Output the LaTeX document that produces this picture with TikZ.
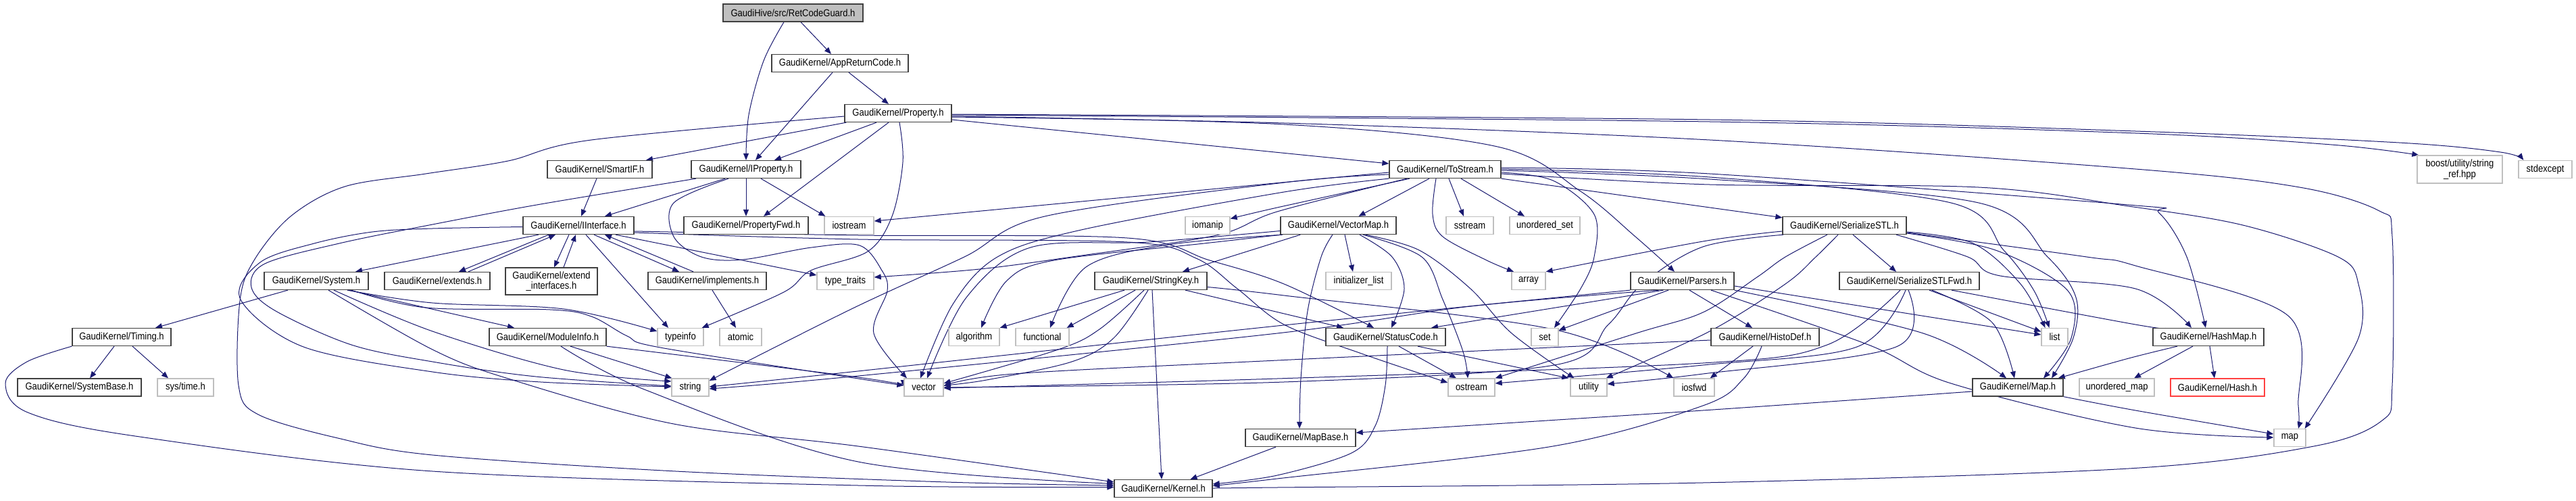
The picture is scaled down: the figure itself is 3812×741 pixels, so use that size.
\documentclass[tikz,border=0pt]{standalone}
\usepackage{fontspec}
\setmainfont{Liberation Sans}[FakeStretch=0.88]
\usetikzlibrary{arrows.meta}
\definecolor{edgec}{HTML}{191970}
\definecolor{docb}{HTML}{404040}
\definecolor{extb}{HTML}{BFBFBF}
\definecolor{redb}{HTML}{FF4040}
\pgfdeclarelayer{bg}
\pgfsetlayers{bg,main}
\tikzset{
  nd/.style={draw=docb, line width=1.3pt, fill=white, inner sep=0pt, font=\fontsize{14.8}{15.5}\selectfont, align=center, minimum height=26pt},
  ex/.style={nd, draw=extb},
  rt/.style={nd, fill=extb},
  rd/.style={nd, draw=redb},
  e/.style={draw=edgec, line width=1pt, -{Triangle[length=10pt,width=8pt]}},
  sm/.style={smooth, tension=0.55},
}
\begin{document}
\begin{tikzpicture}[x=1pt,y=-1pt]
\useasboundingbox (0,0) rectangle (3812,741);
% nodes
\node[rt, minimum width=207pt] (rcg) at (1173.5,19) {GaudiHive/src/RetCodeGuard.h};
\node[nd, minimum width=202pt] (arc) at (1243,93.5) {GaudiKernel/AppReturnCode.h};
\node[nd, minimum width=158pt] (prop) at (1329,167.5) {GaudiKernel/Property.h};
\node[nd, minimum width=155pt] (smartif) at (887.5,250.5) {GaudiKernel/SmartIF.h};
\node[nd, minimum width=162pt] (iprop) at (1104,250.5) {GaudiKernel/IProperty.h};
\node[nd, minimum width=165pt] (tostream) at (2138.5,250.5) {GaudiKernel/ToStream.h};
\node[ex, minimum width=126pt, minimum height=41pt] (boost) at (3640,250.5) {boost/utility/string\\\_ref.hpp};
\node[ex, minimum width=79pt] (stdexcept) at (3766.5,250.5) {stdexcept};
\node[nd, minimum width=164pt] (iint) at (856,333.5) {GaudiKernel/IInterface.h};
\node[nd, minimum width=184pt] (pfwd) at (1104,333.5) {GaudiKernel/PropertyFwd.h};
\node[ex, minimum width=73pt] (iostream) at (1256.5,333.5) {iostream};
\node[ex, minimum width=66pt] (iomanip) at (1787,333.5) {iomanip};
\node[nd, minimum width=171pt] (vmap) at (1980.5,333.5) {GaudiKernel/VectorMap.h};
\node[ex, minimum width=70pt] (sstream) at (2175,333.5) {sstream};
\node[ex, minimum width=104pt] (uset) at (2286,333.5) {unordered\_set};
\node[nd, minimum width=183pt] (sstl) at (2729.5,333.5) {GaudiKernel/SerializeSTL.h};
\node[nd, minimum width=154pt] (system) at (468,415.5) {GaudiKernel/System.h};
\node[nd, minimum width=156pt] (extends) at (647,415.5) {GaudiKernel/extends.h};
\node[nd, minimum width=136pt, minimum height=40pt] (extint) at (816,416) {GaudiKernel/extend\\\_interfaces.h};
\node[nd, minimum width=175pt] (implements) at (1046.5,415.5) {GaudiKernel/implements.h};
\node[ex, minimum width=84pt] (typetraits) at (1251,415.5) {type\_traits};
\node[nd, minimum width=166pt] (strkey) at (1703,415.5) {GaudiKernel/StringKey.h};
\node[ex, minimum width=97pt] (initlist) at (2010.5,415.5) {initializer\_list};
\node[ex, minimum width=50pt] (array) at (2262,415.5) {array};
\node[nd, minimum width=153pt] (parsers) at (2489.5,415.5) {GaudiKernel/Parsers.h};
\node[nd, minimum width=207pt] (sstlfwd) at (2825.5,415.5) {GaudiKernel/SerializeSTLFwd.h};
\node[nd, minimum width=146pt] (timing) at (180,498.5) {GaudiKernel/Timing.h};
\node[nd, minimum width=173pt] (modinfo) at (810.5,498.5) {GaudiKernel/ModuleInfo.h};
\node[ex, minimum width=68pt] (typeinfo) at (1007,498.5) {typeinfo};
\node[ex, minimum width=62pt] (atomic) at (1096,498.5) {atomic};
\node[ex, minimum width=75pt] (algorithm) at (1441.5,498.5) {algorithm};
\node[ex, minimum width=79pt] (functional) at (1542.5,498.5) {functional};
\node[nd, minimum width=177pt] (statuscode) at (2050.5,498.5) {GaudiKernel/StatusCode.h};
\node[ex, minimum width=40pt] (set) at (2286,498.5) {set};
\node[nd, minimum width=160pt] (histodef) at (2612,498.5) {GaudiKernel/HistoDef.h};
\node[ex, minimum width=39pt] (list) at (3040.5,498.5) {list};
\node[nd, minimum width=164pt] (hashmap) at (3268,498.5) {GaudiKernel/HashMap.h};
\node[nd, minimum width=183pt] (systembase) at (117.5,573) {GaudiKernel/SystemBase.h};
\node[ex, minimum width=83pt] (systime) at (274.5,573) {sys/time.h};
\node[ex, minimum width=55pt] (string) at (1021.5,573) {string};
\node[ex, minimum width=58pt] (vector) at (1367,573) {vector};
\node[ex, minimum width=69pt] (ostream) at (2177.5,573) {ostream};
\node[ex, minimum width=54pt] (utility) at (2351,573) {utility};
\node[ex, minimum width=60pt] (iosfwd) at (2507,573) {iosfwd};
\node[nd, minimum width=134pt] (maph) at (2986,573) {GaudiKernel/Map.h};
\node[ex, minimum width=111pt] (umap) at (3132.5,573) {unordered\_map};
\node[rd, minimum width=139pt] (hash) at (3281.5,573) {GaudiKernel/Hash.h};
\node[nd, minimum width=163pt] (mapbase) at (1924.5,647.5) {GaudiKernel/MapBase.h};
\node[ex, minimum width=47pt] (map) at (3388.5,647.5) {map};
\node[nd, minimum width=145pt] (kernel) at (1721.5,722.5) {GaudiKernel/Kernel.h};
% edges
\begin{pgfonlayer}{bg}
\fill[white] (0,0) rectangle (3812,741);
\draw[e] plot[sm] coordinates {([xshift=-13.5pt]rcg.south) (1130,90) (1108,170) (iprop.north)};
\draw[e] ([xshift=11.5pt]rcg.south) -- ([xshift=-13pt]arc.north);
\draw[e] ([xshift=-11pt]arc.south) -- ([xshift=14pt]iprop.north);
\draw[e] ([xshift=13pt]arc.south) -- ([xshift=-14pt]prop.north);
\draw[e] ([xshift=-32pt]prop.south) -- ([xshift=42pt]iprop.north);
\draw[e] ([xshift=-14pt]prop.south) -- ([xshift=26pt]pfwd.north);
\draw[e] ([xshift=3pt]prop.south west) -- ([xshift=68.5pt]smartif.north);
\draw[e] plot[sm] coordinates {([yshift=-4.5pt]prop.west) (875,207) (752,238) (630,257) (510,276) (430,320) (376,385) (355,445) (353,570) (382,613) (500,648) (640,673) (1000,697) (1400,713) ([yshift=4.5pt]kernel.west)};
\draw[e] plot[sm] coordinates {([xshift=2pt]prop.south) (1336,240) (1320,320) (1284,372) (1200,400) (1160,432) ([xshift=-3pt]typeinfo.north east)};
\draw[e] ([yshift=-9.5pt]prop.east) -- ([yshift=8.5pt]tostream.west);
\draw[e] plot[sm] coordinates {([yshift=-4.5pt]prop.east) (1900,184) (2216,217) (2339,283) (2420,350) ([xshift=-11.5pt]parsers.north)};
\draw[e] plot[sm] coordinates {([yshift=-5.5pt]prop.east) (1900,182) (2530,207) (3160,250) (3403,277) (3521,312) (3540,350) (3540,570) (3525,622) (3424,660) (3150,693) (2520,714) (1890,721) ([yshift=0.5pt]kernel.east)};
\draw[e] plot[sm] coordinates {([yshift=-2.5pt]prop.east) (2530,180) (3160,197) (3450,214) ([xshift=3pt]boost.north west)};
\draw[e] plot[sm] coordinates {([yshift=-1.5pt]prop.east) (2530,177) (3160,194) (3550,211) (3700,225) ([xshift=8pt]stdexcept.north west)};
\draw[e] ([xshift=-4.5pt]smartif.south) -- ([xshift=4pt]iint.north);
\draw[e] ([xshift=-31pt]iprop.south) -- ([xshift=39pt]iint.north);
\draw[e] (iprop.south) -- (pfwd.north);
\draw[e] ([xshift=22pt]iprop.south) -- ([xshift=2pt]iostream.north west);
\draw[e] plot[sm] coordinates {([xshift=-74pt]iprop.south) (800,302) (640,332) (502,360) (392,390) (372,425) (408,460) (520,510) (640,535) (793,557) ([yshift=2pt]string.west)};
\draw[e] plot[sm] coordinates {([yshift=-2pt]iint.west) (640,338) (551,343) (465,360) (385,388) (356,443) (449,513) (640,550) (800,565) ([yshift=1pt]string.west)};
\draw[e] ([xshift=-59pt]iint.south) -- ([xshift=58pt]system.north);
\draw[e] ([xshift=-44pt]iint.south) -- ([xshift=32pt]extends.north);
\draw[e] ([xshift=46pt]extends.north) -- ([xshift=-34pt]iint.south);
\draw[e] ([xshift=-14pt]iint.south) -- ([xshift=4pt]extint.north);
\draw[e] ([xshift=18pt]extint.north) -- ([xshift=-4pt]iint.south);
\draw[e] ([xshift=11pt]iint.south) -- ([xshift=-18pt]typeinfo.north);
\draw[e] ([xshift=23pt]iint.south) -- ([xshift=-41.5pt]implements.north);
\draw[e] ([xshift=-20.5pt]implements.north) -- ([xshift=39pt]iint.south);
\draw[e] ([xshift=7.5pt]implements.south) -- ([xshift=-7pt]atomic.north);
\draw[e] ([xshift=55pt]iint.south) -- ([yshift=8.5pt]typetraits.west);
\draw[e] plot[sm] coordinates {([yshift=-8.5pt]iint.east) (1270,348) (1668,352) (1790,385) (1900,420) ([xshift=-17.5pt]statuscode.north)};
\draw[e] plot[sm] coordinates {([yshift=-10.5pt]iint.east) (1270,354) (1668,358) (1770,382) (1831,427) (1900,480) (2012,522) ([yshift=7pt]ostream.west)};
\draw[e] ([xshift=-42pt]system.south) -- ([xshift=50pt]timing.north);
\draw[e] ([xshift=48pt]system.south) -- ([xshift=-49.5pt]modinfo.north);
\draw[e] plot[sm] coordinates {([xshift=46pt]system.south) (640,448) (834,457) ([yshift=8.5pt]typeinfo.west)};
\draw[e] plot[sm] coordinates {([xshift=52pt]system.south) (630,455) (814,458) (875,468) (928,497) (977,514) (1270,560) ([yshift=3pt]vector.west)};
\draw[e] plot[sm] coordinates {([xshift=26pt]system.south) (640,490) (834,547) ([yshift=9pt]string.west)};
\draw[e] plot[sm] coordinates {([xshift=18pt]system.south) (640,517) (752,560) (997,627) (1270,660) ([yshift=9.5pt]kernel.west)};
\draw[e] ([xshift=-11pt]timing.south) -- ([xshift=15.5pt]systembase.north);
\draw[e] ([xshift=16pt]timing.south) -- ([xshift=-25.5pt]systime.north);
\draw[e] plot[sm] coordinates {(timing.south west) (40,535) (8,567) (41,610) (200,645) (640,697) (1270,718) ([yshift=2pt]kernel.west)};
\draw[e] ([xshift=33.5pt]modinfo.south) -- ([xshift=1pt]string.north west);
\draw[e] plot[sm] coordinates {(modinfo.south east) (1270,558) ([yshift=1pt]vector.west)};
\draw[e] plot[sm] coordinates {([xshift=19.5pt]modinfo.south) (956,577) (1270,683) ([yshift=7pt]kernel.west)};
\draw[e] plot[sm] coordinates {([xshift=-26pt]iprop.south) (997,300) (997,350) (1038,380) (1099,384) (1201,366) (1272,363) (1305,400) (1313,430) (1293,493) ([xshift=-25pt]vector.north)};
\draw[e] ([xshift=-23.5pt]tostream.south) -- ([xshift=30pt]vmap.north);
\draw[e] ([xshift=5.5pt]tostream.south) -- ([xshift=-9pt]sstream.north);
\draw[e] ([xshift=23.5pt]tostream.south) -- ([xshift=-30pt]uset.north);
\draw[e] ([yshift=-4.5pt]tostream.west) -- ([yshift=6.5pt]iostream.east);
\draw[e] plot[sm] coordinates {([xshift=-52.5pt]tostream.south) (1890,307) ([yshift=10pt]iomanip.east)};
\draw[e] plot[sm] coordinates {([yshift=-7.5pt]tostream.west) (1900,270) (1546,320) (1427,380) (1260,457) ([yshift=10pt]string.east)};
\draw[e] plot[sm] coordinates {(tostream.south west) (1900,284) (1600,340) (1476,380) (1410,450) ([xshift=-5pt]vector.north)};
\draw[e] plot[sm] coordinates {([xshift=-56.5pt]tostream.south) (1890,313) (1800,348) (1600,378) (1450,398) ([yshift=5.5pt]typetraits.east)};
\draw[e] plot[sm] coordinates {([xshift=-13.5pt]tostream.south) (2120,317) (2135,350) (2200,385) ([xshift=-22pt]array.north)};
\draw[e] plot[sm] coordinates {([yshift=-4.5pt]tostream.east) (2298,267) (2359,317) (2359,380) (2339,427) ([xshift=14pt]set.north)};
\draw[e] plot[sm] coordinates {([yshift=0.5pt]tostream.east) (2530,262) (2887,300) (2965,370) (3010,430) ([xshift=-8pt]list.north)};
\draw[e] plot[sm] coordinates {([yshift=-1.5pt]tostream.east) (2530,265) (2928,300) (3030,380) (3072,440) (3068,500) ([xshift=50pt]maph.north)};
\draw[e] plot[sm] coordinates {([yshift=2.5pt]tostream.east) (2530,257) (3150,303) (3195,315) (3236,380) ([xshift=-4pt]hashmap.north)};
\draw[e] plot[sm] coordinates {([yshift=-6.5pt]tostream.east) (2530,273) (2928,277) (3150,305) (3319,333) (3460,380) (3490,420) (3490,500) ([xshift=-2pt]map.north east)};
\draw[e] (tostream.south east) -- ([yshift=-2pt]sstl.north west);
\draw[e] ([xshift=9.5pt]vmap.south) -- ([xshift=-8.5pt]initlist.north);
\draw[e] plot[sm] coordinates {([xshift=-8.5pt]vmap.south) (1955,380) (1935,460) (1925,560) ([xshift=-1.5pt]mapbase.north)};
\draw[e] plot[sm] coordinates {([xshift=31.5pt]vmap.south) (2060,380) (2078,427) ([xshift=8.5pt]statuscode.north)};
\draw[e] plot[sm] coordinates {([xshift=36.5pt]vmap.south) (2104,380) (2135,443) (2165,520) ([xshift=-5.5pt]ostream.north)};
\draw[e] plot[sm] coordinates {([xshift=40pt]vmap.south) (2100,370) (2176,427) (2237,493) ([xshift=6pt]utility.north west)};
\draw[e] plot[sm] coordinates {([yshift=-8pt]vmap.west) (1700,358) (1525,366) (1430,440) ([xshift=5pt]vector.north)};
\draw[e] plot[sm] coordinates {([xshift=2pt]vmap.south west) (1782,360) (1560,385) (1490,415) ([xshift=10.5pt]algorithm.north)};
\draw[e] plot[sm] coordinates {([xshift=4pt]vmap.south west) (1729,362) (1607,395) ([xshift=11.5pt]functional.north)};
\draw[e] ([xshift=30pt]vmap.south west) -- ([xshift=47pt]strkey.north);
\draw[e] ([xshift=-39pt]strkey.south) -- (algorithm.north east);
\draw[e] ([xshift=-23pt]strkey.south) -- ([xshift=-4pt]functional.north east);
\draw[e] plot[sm] coordinates {([xshift=-10pt]strkey.south) (1627,487) (1566,517) ([yshift=6pt]vector.east)};
\draw[e] plot[sm] coordinates {([xshift=-4pt]strkey.south) (1648,500) (1586,535) (1460,562) ([yshift=3pt]vector.east)};
\draw[e] ([xshift=2pt]strkey.south) -- ([xshift=-2.5pt]kernel.north);
\draw[e] ([xshift=51pt]strkey.south) -- ([xshift=-62.5pt]statuscode.north);
\draw[e] plot[sm] coordinates {([yshift=-9pt]strkey.east) (1900,437) (2298,487) (iosfwd.north west)};
\draw[e] ([xshift=-20.5pt]parsers.south) -- ([yshift=10pt]set.east);
\draw[e] ([xshift=-28pt]parsers.south) -- ([xshift=67.5pt]statuscode.north);
\draw[e] plot[sm] coordinates {(parsers.south west) (1890,482) (1260,550) ([yshift=1pt]string.east)};
\draw[e] plot[sm] coordinates {([xshift=-35pt]parsers.south) (2176,453) (1890,493) (1260,557) ([yshift=-2pt]string.east)};
\draw[e] ([xshift=10.5pt]parsers.south) -- ([xshift=-19pt]histodef.north);
\draw[e] ([yshift=-7.5pt]parsers.east) -- ([yshift=3.5pt]list.west);
\draw[e] plot[sm] coordinates {(parsers.south east) (2846,493) ([xshift=-17pt]maph.north)};
\draw[e] plot[sm] coordinates {([xshift=42.5pt]parsers.south) (2765,510) (2887,567) (3160,633) ([yshift=0.5pt]map.west)};
\draw[e] ([xshift=-18pt]histodef.south) -- ([xshift=-7pt]iosfwd.north east);
\draw[e] plot[sm] coordinates {([xshift=-5pt]histodef.south) (2580,560) (2520,600) (2298,660) (1890,708) ([yshift=4pt]kernel.east)};
\draw[e] plot[sm] coordinates {([yshift=-4.5pt]histodef.west) (1890,533) (1500,553) ([yshift=2pt]vector.east)};
\draw[e] ([xshift=19.5pt]statuscode.south) -- ([xshift=-22.5pt]ostream.north);
\draw[e] ([xshift=47.5pt]statuscode.south) -- ([xshift=-2pt]utility.north west);
\draw[e] plot[sm] coordinates {([xshift=2.5pt]statuscode.south) (2050,570) (2035,630) (2000,670) (1890,703) ([yshift=6.5pt]kernel.east)};
\draw[e] ([xshift=12.5pt]sstl.south) -- ([xshift=-19.5pt]sstlfwd.north);
\draw[e] plot[sm] coordinates {([yshift=-8.5pt]sstl.west) (2520,357) (array.north east)};
\draw[e] plot[sm] coordinates {([xshift=-25.5pt]sstl.south) (2642,380) (2600,410) (2520,462) (2421,493) (ostream.north east)};
\draw[e] plot[sm] coordinates {([xshift=-9.5pt]sstl.south) (2687,380) (2642,420) (2530,490) ([xshift=-2pt]utility.north east)};
\draw[e] plot[sm] coordinates {([xshift=2pt]sstl.south west) (2520,365) (2430,420) (2380,480) (2300,540) (1900,565) (vector.east)};
\draw[e] plot[sm] coordinates {([yshift=-9.5pt]sstl.east) (2920,360) (2990,420) ([xshift=-14pt]list.north)};
\draw[e] plot[sm] coordinates {([yshift=-11.5pt]sstl.east) (2953,370) (3060,430) (3065,500) ([xshift=38pt]maph.north)};
\draw[e] plot[sm] coordinates {([xshift=76.5pt]sstl.south) (2912,380) (2960,408) (3160,427) ([xshift=-25pt]hashmap.north)};
\draw[e] plot[sm] coordinates {([yshift=-10.5pt]sstl.east) (3088,380) (3160,393) (3386,467) (3401,600) ([xshift=12.5pt]map.north)};
\draw[e] ([xshift=29.5pt]sstlfwd.south) -- ([yshift=8pt]list.west);
\draw[e] plot[sm] coordinates {([xshift=33.5pt]sstlfwd.south) (2948,477) ([xshift=-5pt]maph.north)};
\draw[e] plot[sm] coordinates {([xshift=62.5pt]sstlfwd.south) (3160,480) ([xshift=19pt]hashmap.north west)};
\draw[e] plot[sm] coordinates {([xshift=-13.5pt]sstlfwd.south) (2704,510) (2520,537) (1890,560) ([yshift=-1pt]vector.east)};
\draw[e] plot[sm] coordinates {([xshift=-5.5pt]sstlfwd.south) (2748,513) (2520,540) ([yshift=6pt]ostream.east)};
\draw[e] plot[sm] coordinates {([xshift=-1.5pt]sstlfwd.south) (2806,513) (2520,553) ([yshift=5pt]utility.east)};
\draw[e] plot[sm] coordinates {([xshift=-46pt]hashmap.south) (3150,530) ([xshift=-8pt]maph.north east)};
\draw[e] ([xshift=-23pt]hashmap.south) -- ([xshift=25.5pt]umap.north);
\draw[e] ([xshift=2pt]hashmap.south) -- ([xshift=-4.5pt]hash.north);
\draw[e] plot[sm] coordinates {([yshift=-6pt]maph.west) (2520,607) ([yshift=7.5pt]mapbase.east)};
\draw[e] plot[sm] coordinates {(maph.south east) (3160,607) ([yshift=5.5pt]map.west)};
\draw[e] ([xshift=-36.5pt]mapbase.south) -- ([xshift=40pt]kernel.north);
\end{pgfonlayer}
\end{tikzpicture}
\end{document}
